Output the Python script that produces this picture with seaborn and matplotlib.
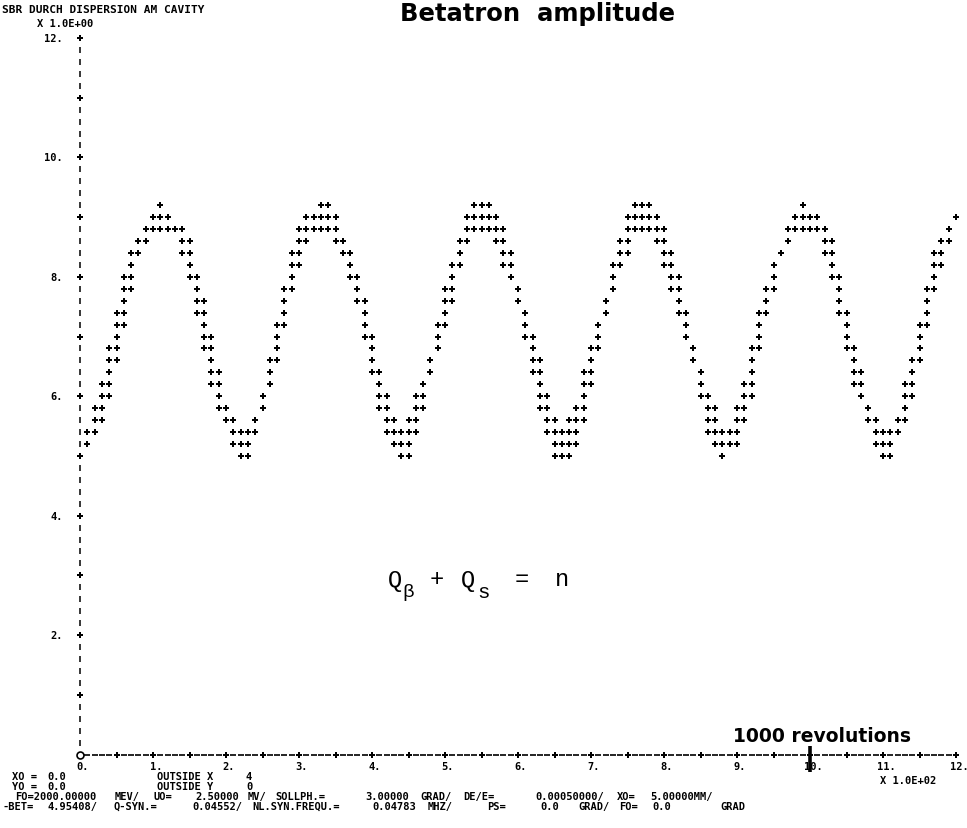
import numpy as np
import pandas as pd
import matplotlib
matplotlib.use("Agg")
import matplotlib.pyplot as plt
import seaborn as sns

# ---------------- data ----------------
# one printer column every 10 revolutions (x axis is in units of 100 revolutions)
revolutions = list(range(0, 1201, 10))
# lowest and highest printed row (amplitude) in each column
amp_low = [5.0, 5.2, 5.4, 5.6, 6.0, 6.6, 7.2, 7.8, 8.4, 8.6,
           8.8, 8.8, 8.8, 8.8, 8.4, 8.0, 7.4, 6.8, 6.2, 5.8,
           5.6, 5.2, 5.0, 5.0, 5.4, 5.8, 6.2, 6.6, 7.2, 7.8,
           8.2, 8.6, 8.8, 8.8, 8.8, 8.6, 8.4, 8.0, 7.6, 7.0,
           6.4, 5.8, 5.4, 5.2, 5.0, 5.0, 5.4, 5.8, 6.4, 6.8,
           7.2, 7.6, 8.2, 8.6, 8.8, 8.8, 8.8, 8.6, 8.2, 8.0,
           7.6, 7.0, 6.4, 5.8, 5.4, 5.0, 5.0, 5.0, 5.2, 5.6,
           6.2, 6.8, 7.4, 7.8, 8.2, 8.4, 8.8, 8.8, 8.8, 8.6,
           8.2, 7.8, 7.4, 7.0, 6.6, 6.0, 5.4, 5.2, 5.0, 5.2,
           5.2, 5.6, 6.0, 6.8, 7.4, 7.8, 8.4, 8.6, 8.8, 8.8,
           8.8, 8.8, 8.4, 8.0, 7.4, 6.8, 6.2, 6.0, 5.6, 5.2,
           5.0, 5.0, 5.4, 5.6, 6.0, 6.6, 7.2, 7.8, 8.2, 8.6,
           9.0]
amp_high = [5.0, 5.4, 5.8, 6.2, 6.8, 7.4, 8.0, 8.4, 8.6, 8.8,
            9.0, 9.2, 9.0, 8.8, 8.8, 8.6, 8.0, 7.6, 7.0, 6.4,
            5.8, 5.6, 5.4, 5.4, 5.6, 6.0, 6.6, 7.2, 7.8, 8.4,
            8.8, 9.0, 9.0, 9.2, 9.2, 9.0, 8.6, 8.4, 8.0, 7.6,
            7.0, 6.4, 6.0, 5.6, 5.4, 5.6, 6.0, 6.2, 6.6, 7.2,
            7.8, 8.2, 8.6, 9.0, 9.2, 9.2, 9.2, 9.0, 8.8, 8.4,
            7.8, 7.4, 7.0, 6.6, 6.0, 5.6, 5.4, 5.6, 5.8, 6.4,
            6.8, 7.2, 7.6, 8.2, 8.6, 9.0, 9.2, 9.2, 9.2, 9.0,
            8.8, 8.4, 8.0, 7.4, 6.8, 6.4, 6.0, 5.8, 5.4, 5.4,
            5.8, 6.2, 6.8, 7.4, 7.8, 8.2, 8.4, 8.8, 9.0, 9.2,
            9.0, 9.0, 8.8, 8.6, 8.0, 7.4, 6.8, 6.4, 5.8, 5.6,
            5.4, 5.4, 5.6, 6.2, 6.6, 7.2, 7.8, 8.4, 8.6, 8.8,
            9.0]
row_step = 0.2

y_tick_values = [2, 4, 6, 8, 10, 12]
y_tick_labels = ["2.", "4.", "6.", "8.", "10.", "12."]
x_tick_values = [0, 1, 2, 3, 4, 5, 6, 7, 8, 9, 10, 11, 12]
x_tick_labels = ["0.", "1.", "2.", "3.", "4.", "5.", "6.", "7.", "8.", "9.",
                 "10.", "11.", "12."]

title_text = "Betatron  amplitude"
header_text = "SBR DURCH DISPERSION AM CAVITY"
y_scale_text = "X 1.0E+00"
x_scale_text = "X 1.0E+02"
marker_label = "1000 revolutions"
marker_turns = 1000

footer_row1 = ["XO =", "0.0", "OUTSIDE X", "4"]
footer_row2 = ["YO =", "0.0", "OUTSIDE Y", "0"]
footer_row3 = ["FO=2000.00000", "MEV/", "UO=", "2.50000", "MV/", "SOLLPH.=",
               "3.00000", "GRAD/", "DE/E=", "0.00050000/", "XO=", "5.00000MM/"]
footer_row4 = ["-BET=", "4.95408/", "Q-SYN.=", "0.04552/", "NL.SYN.FREQU.=",
               "0.04783", "MHZ/", "PS=", "0.0", "GRAD/", "FO=", "0.0", "GRAD"]

# ---------------- layout (pixels of the 967x829 page) ----------------
W, H = 967, 829
row1_x = [12, 47, 157, 246]
row3_x = [15, 115, 153, 195, 248, 275, 365, 420, 463, 535, 617, 650]
row4_x = [3, 47, 113, 192, 252, 372, 428, 487, 540, 578, 619, 652, 720]

sns.set_theme(style="white")
plt.rcParams["font.family"] = ["DejaVu Sans", "DejaVu Sans Mono"]
plt.rcParams["text.color"] = "black"

fig = plt.figure(figsize=(W / 100, H / 100), dpi=100)
fig.patch.set_facecolor("white")

ax_left, ax_right, ax_top, ax_bottom = 80, 956, 39, 755.5
ax = fig.add_axes([ax_left / W, 1 - ax_bottom / H,
                   (ax_right - ax_left) / W, (ax_bottom - ax_top) / H])
ax.set_xlim(0, 12)
ax.set_ylim(0, 12)
ax.axis("off")

# expand each column range into printed rows
xs, ys = [], []
for r, lo, hi in zip(revolutions, amp_low, amp_high):
    n = int(round((hi - lo) / row_step)) + 1
    for k in range(n):
        xs.append(r / 100.0)
        ys.append(round(lo + k * row_step, 1))
df = pd.DataFrame({"turns": xs, "amplitude": ys})

sns.scatterplot(data=df, x="turns", y="amplitude", ax=ax, marker="P", s=14,
                color="black", linewidth=0, legend=False, clip_on=False, zorder=3)

mono = "DejaVu Sans Mono"
txt_kw = dict(family=mono, fontsize=7.5, fontweight="bold", color="black")

# printer-style y axis: 'I' per row, '+' on whole units
yrows = np.round(np.arange(0, 12.0001, row_step), 1)
minor_y = [v for v in yrows if abs(v - round(v)) > 1e-6]
major_y = [v for v in yrows if abs(v - round(v)) < 1e-6 and v > 0]
ax.plot([0] * len(minor_y), minor_y, ls="none", marker="|", ms=4, mew=1.1,
        color="black", clip_on=False)
ax.plot([0] * len(major_y), major_y, ls="none", marker="P", ms=4, mew=0,
        color="black", clip_on=False)

# printer-style x axis: '-' per column, '+' every 5 columns
xcols = np.round(np.arange(0.1, 12.0001, 0.1), 1)
minor_x = [v for v in xcols if abs(v * 2 - round(v * 2)) > 1e-6]
major_x = [v for v in xcols if abs(v * 2 - round(v * 2)) < 1e-6]
ax.plot(minor_x, [0] * len(minor_x), ls="none", marker="_", ms=5, mew=1.2,
        color="black", clip_on=False)
ax.plot(major_x, [0] * len(major_x), ls="none", marker="P", ms=4, mew=0,
        color="black", clip_on=False)
ax.plot([0], [0], ls="none", marker="o", ms=5, mfc="white", mec="black",
        mew=1.2, clip_on=False)

# y tick labels
for v, lab in zip(y_tick_values, y_tick_labels):
    ax.text(-0.23, v, lab, ha="right", va="center", **txt_kw)
# x tick labels
for v, lab in zip(x_tick_values, x_tick_labels):
    ax.text(v + 0.04, -0.2, lab, ha="center", va="center", **txt_kw)

# 1000 revolutions marker
ax.plot([marker_turns / 100] * 2, [-0.3, 0.15], color="black", lw=2.6,
        clip_on=False, solid_capstyle="butt")


def ftext(px, py, s, **kw):
    fig.text(px / W, 1 - py / H, s, **kw)


ftext(537, 14, title_text, ha="center", va="center", fontsize=17.5,
      fontweight="bold", family=["DejaVu Sans"], color="black")
ftext(733, 737, marker_label, ha="left", va="center", fontsize=13.5,
      fontweight="bold", family=["DejaVu Sans"], color="black")
ftext(2, 10, header_text, ha="left", va="center", family=mono, fontsize=8.0,
      fontweight="bold", color="black")
ftext(37, 24, y_scale_text, ha="left", va="center", **txt_kw)
ftext(880, 781, x_scale_text, ha="left", va="center", **txt_kw)

for row, ypix in ((footer_row1, 777), (footer_row2, 787)):
    for s, xp in zip(row, row1_x):
        ftext(xp, ypix, s, ha="left", va="center", **txt_kw)
for s, xp in zip(footer_row3, row3_x):
    ftext(xp, 797, s, ha="left", va="center", **txt_kw)
for s, xp in zip(footer_row4, row4_x):
    ftext(xp, 807, s, ha="left", va="center", **txt_kw)

# resonance condition
fq = "Liberation Mono"
ftext(388, 580, "Q", ha="left", va="center", family=fq, fontsize=17, color="black")
ftext(402, 593, "\u03b2", ha="left", va="center", family=fq, fontsize=14, color="black")
ftext(430, 580, "+", ha="left", va="center", family=fq, fontsize=17, color="black")
ftext(461, 580, "Q", ha="left", va="center", family=fq, fontsize=17, color="black")
ftext(477, 593, "s", ha="left", va="center", family=fq, fontsize=15, color="black")
ftext(515, 580, "=", ha="left", va="center", family=fq, fontsize=17, color="black")
ftext(555, 580, "n", ha="left", va="center", family=fq, fontsize=17, color="black")

fig.savefig("out.png", dpi=100, facecolor="white")
